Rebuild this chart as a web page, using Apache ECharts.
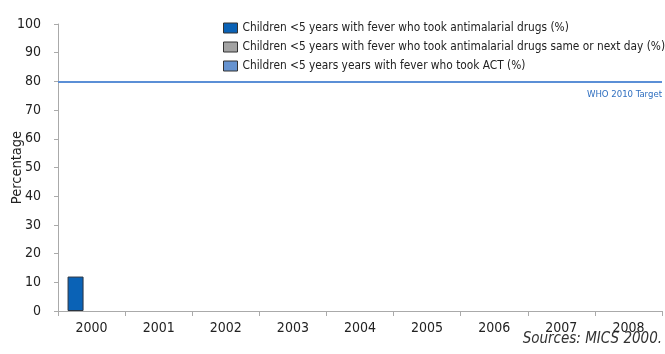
<!DOCTYPE html>
<html>
<head>
<meta charset="utf-8">
<script src="https://cdn.jsdelivr.net/npm/echarts@6/dist/echarts.min.js"></script>
<style>
  html, body { margin: 0; padding: 0; background: #fff; }
  #chart { width: 665px; height: 354px; }
</style>
</head>
<body>
<div id="chart"></div>
<script>
// Survey years on the category axis
const years = ['2000', '2001', '2002', '2003', '2004', '2005', '2006', '2007', '2008'];

// Children under 5 with fever: share treated, by indicator (%)
const antimalarialDrugs = [12, null, null, null, null, null, null, null, null];
const sameOrNextDay = [null, null, null, null, null, null, null, null, null];
const tookACT = [null, null, null, null, null, null, null, null, null];

const seriesNames = [
  'Children <5 years with fever who took antimalarial drugs (%)',
  'Children <5 years with fever who took antimalarial drugs same or next day (%)',
  'Children <5 years years with fever who took ACT (%)'
];

const targetValue = 80;
const targetLabel = 'WHO 2010 Target';
const sourceNote = 'Sources: MICS 2000.';

const FONT = '"DejaVu Sans Condensed", "Liberation Sans Narrow", "Roboto", sans-serif';
const colors = ['#0a62b6', '#a3a3a3', '#6693d0'];

const chart = echarts.init(document.getElementById('chart'), null, { renderer: 'canvas' });

const barStyle = (c) => ({ color: c, borderColor: '#2a3440', borderWidth: 1 });

chart.setOption({
  animation: false,
  textStyle: { fontFamily: FONT },
  grid: { left: 58, right: 3, top: 24, bottom: 43, containLabel: false, outerBoundsMode: 'none' },
  legend: {
    orient: 'vertical',
    left: 218,
    top: 17,
    itemWidth: 14,
    itemHeight: 10,
    itemGap: 7,
    icon: 'rect',
    textStyle: { fontFamily: FONT, fontSize: 11.8, color: '#222' },
    itemStyle: { borderColor: '#333', borderWidth: 1 },
    data: seriesNames
  },
  xAxis: {
    type: 'category',
    data: years,
    axisLine: { lineStyle: { color: '#aaaaaa' } },
    axisTick: { show: true, length: 5, lineStyle: { color: '#aaaaaa' } },
    axisLabel: { color: '#222', fontSize: 14, fontFamily: FONT, margin: 10 }
  },
  yAxis: {
    type: 'value',
    min: 0,
    max: 100,
    interval: 10,
    name: 'Percentage',
    nameLocation: 'middle',
    nameGap: 33,
    nameMoveOverlap: false,
    nameTextStyle: { color: '#222', fontSize: 14.5, fontFamily: FONT },
    axisLine: { show: true, lineStyle: { color: '#aaaaaa' } },
    axisTick: { show: true, length: 4, lineStyle: { color: '#aaaaaa' } },
    axisLabel: { color: '#222', fontSize: 14, fontFamily: FONT, margin: 17 },
    splitLine: { show: false }
  },
  series: [
    {
      name: seriesNames[0],
      type: 'bar',
      data: antimalarialDrugs,
      barWidth: 16,
      barGap: '0%',
      itemStyle: barStyle(colors[0]),
      markLine: {
        silent: true,
        symbol: 'none',
        lineStyle: { color: '#5b8fd6', width: 2, type: 'solid' },
        label: {
          show: true,
          position: 'insideEndBottom',
          formatter: targetLabel,
          color: '#2f6fc0',
          fontSize: 9.5,
          fontFamily: FONT,
          distance: [0, 8]
        },
        data: [{ yAxis: targetValue }]
      }
    },
    {
      name: seriesNames[1],
      type: 'bar',
      data: sameOrNextDay,
      barWidth: 16,
      itemStyle: barStyle(colors[1])
    },
    {
      name: seriesNames[2],
      type: 'bar',
      data: tookACT,
      barWidth: 16,
      itemStyle: barStyle(colors[2])
    }
  ],
  graphic: [
    {
      type: 'text',
      right: 3,
      top: 332,
      style: {
        text: sourceNote,
        fontFamily: FONT,
        fontSize: 15,
        fontStyle: 'italic',
        fill: '#333'
      }
    }
  ]
});
</script>
</body>
</html>
